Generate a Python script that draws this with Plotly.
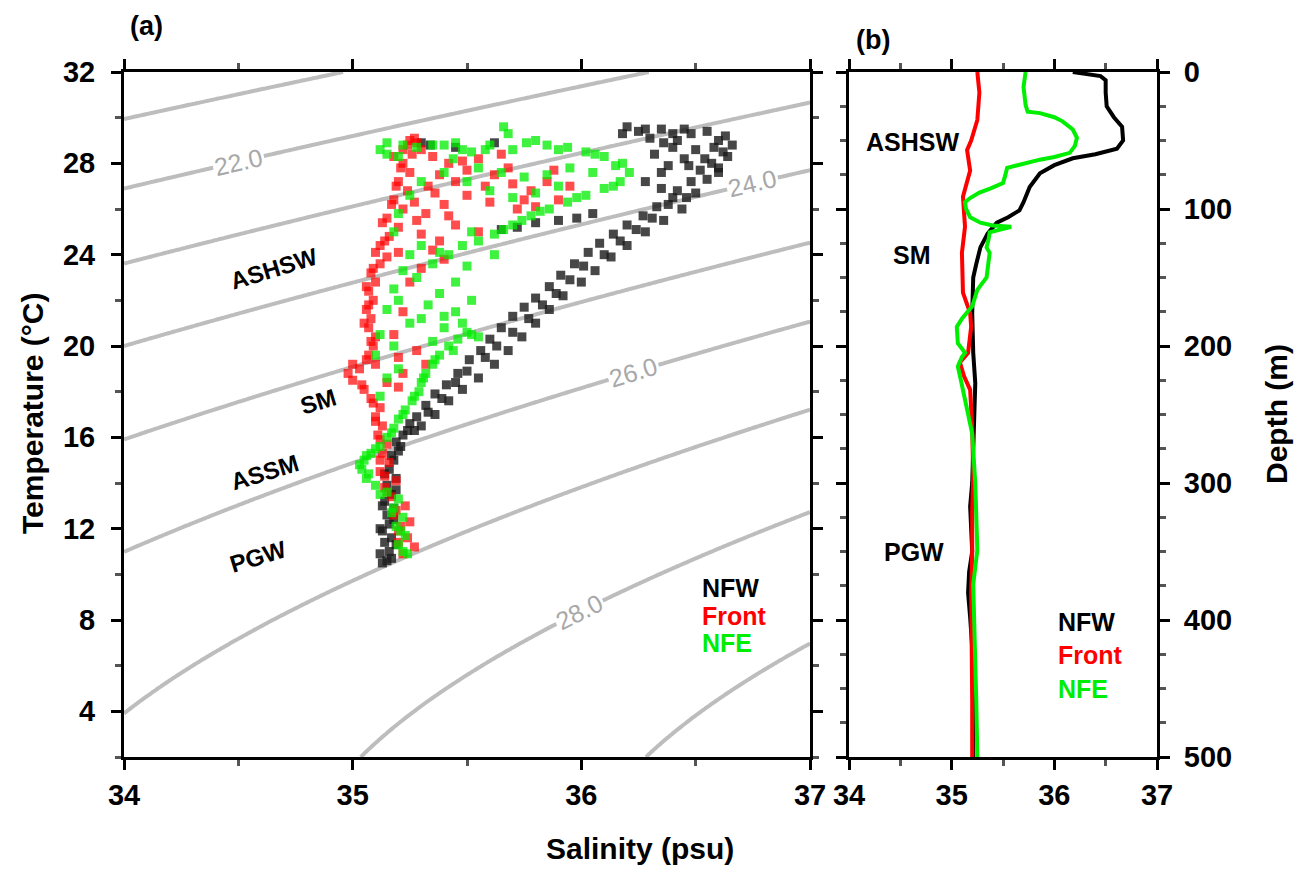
import numpy as np
import plotly.graph_objects as go

# the page puts the figure 8 px in from the window corner
OFF = 8
W, H = 1303 - 2 * OFF, 876 - 2 * OFF

# ---------------- Panel (a) data: T-S scatter ----------------
nfw_S = [35.13,35.15,35.12,35.16,35.14,35.17,35.13,35.16,35.15,35.18,35.14,35.17,35.15,35.19,35.16,35.18,35.20,35.19,35.22,
         35.25,35.28,35.32,35.36,35.41,35.46,35.51,35.56,35.60,35.65,35.70,35.75,35.80,35.86,35.91,35.97,36.03,36.08,36.14,36.20,36.27,36.33,36.40,
         35.30,35.36,35.42,35.48,35.55,35.62,35.68,35.74,35.80,35.86,35.92,36.00,36.06,36.13,36.20,36.28,36.36,36.44,
         36.50,36.55,36.60,36.64,36.66,36.63,36.55,36.45,36.35,36.25,36.18,36.30,36.42,36.50,36.45,36.38,36.52,36.58,36.40,36.32,36.28,36.35,
         35.72,35.80,35.90,35.98,36.05,35.65,
         35.30,35.34,35.62,35.45,
         35.17,35.19,35.12,35.18,35.13,35.19,35.14,35.17,35.21,35.24,
         35.27,35.33,35.39,35.45,35.50,35.58,35.63,35.70,35.77,35.83,35.89,35.95,36.01,36.10,36.17,36.24,36.31,36.38,36.46,36.42,36.48,
         36.60,36.62,36.57,36.48,36.40,36.28,36.20,36.36,36.54,36.60,36.47,36.35]
nfw_T = [10.5,10.6,10.9,11.0,11.4,11.6,11.9,12.2,12.6,12.9,13.2,13.5,13.9,14.2,14.6,15.0,15.4,15.8,16.1,
         16.6,16.9,17.4,17.9,18.3,18.8,19.4,19.8,20.3,20.8,21.3,21.7,22.1,22.6,23.1,23.6,24.1,24.5,24.9,25.3,25.7,26.1,26.5,
         16.5,17.0,17.6,18.1,18.6,19.2,19.8,20.4,21.0,21.6,22.2,22.8,23.3,23.9,24.4,25.0,25.5,26.0,
         26.7,27.3,27.8,28.3,28.8,29.2,29.4,29.5,29.5,29.4,29.3,29.1,29.0,28.6,28.2,27.9,27.7,28.7,28.7,28.4,27.2,26.9,
         25.2,25.4,25.5,25.6,25.8,25.1,
         28.9,28.8,28.9,28.7,
         10.7,11.3,12.0,12.4,13.0,13.7,14.4,15.2,15.6,16.3,
         16.3,17.1,17.7,18.4,18.9,19.5,20.0,20.6,21.2,21.8,22.3,22.9,23.5,24.0,24.6,25.1,25.6,26.2,26.5,26.8,27.2,
         29.0,28.5,28.0,29.3,29.3,29.5,29.6,28.9,28.2,27.6,27.9,27.6]

front_S = [35.22,35.27,35.24,35.20,35.25,35.18,35.23,35.17,35.14,35.19,35.12,35.16,35.13,35.15,35.11,35.13,35.10,35.12,35.08,35.05,35.00,34.98,35.03,35.10,35.15,35.20,35.22,
           35.07,35.09,35.10,35.07,35.08,35.06,35.09,35.07,35.10,35.08,35.12,35.15,35.20,35.12,35.16,35.20,35.15,35.22,35.18,35.24,35.20,35.25,35.22,35.26,35.24,35.27,35.30,
           35.35,35.42,35.50,35.55,35.62,35.70,35.78,35.85,35.90,35.72,35.60,35.50,35.40,35.32,35.45,35.55,35.38,35.30,35.28,35.33,35.45,35.65,35.80,35.95,35.40,35.30,35.25,35.22,35.18,35.20,35.32,35.28,
           35.20,35.21,35.19,35.15,35.14,35.12,35.12,35.10,35.09,35.04,35.00,35.06,35.08,35.05,35.07,35.06,35.09,35.10,35.14,35.13,35.17,35.19,35.21,35.22,35.25,35.28,35.18,
           35.38,35.48,35.58,35.68,35.75,35.88,35.36,35.27,35.35,35.42]
front_T = [10.9,11.2,11.6,11.9,12.3,12.6,13.0,13.4,13.8,14.1,14.5,14.9,15.3,15.7,16.1,16.5,16.9,17.3,17.7,18.1,18.5,18.8,19.0,19.2,18.4,18.2,18.8,
           19.6,20.0,20.4,20.8,21.2,21.6,22.0,22.4,22.8,23.2,23.6,23.9,24.1,24.4,24.8,25.2,25.6,26.0,26.4,26.8,27.2,27.6,28.0,28.4,28.8,29.1,28.6,
           28.3,28.0,27.7,28.2,27.5,27.1,26.8,27.2,26.4,26.0,26.3,26.6,26.2,25.8,25.3,25.0,24.6,24.9,25.5,27.0,27.2,28.4,26.1,27.0,23.8,23.4,22.8,21.5,20.5,19.5,19.2,19.8,
           11.4,12.1,12.8,13.6,14.3,15.0,15.9,16.7,17.5,18.3,19.2,19.4,20.2,21.0,21.8,22.6,23.4,24.1,24.6,25.4,26.2,27.0,27.8,28.6,29.0,28.9,28.3,
           27.5,28.1,27.0,27.8,26.4,27.7,26.7,26.3,24.2,25.7]

nfe_S = [35.24,35.20,35.23,35.19,35.22,35.18,35.20,35.15,35.10,35.06,35.04,35.05,35.08,35.12,35.15,35.18,35.20,35.23,35.26,35.29,35.30,35.32,35.35,35.38,35.42,35.46,35.50,35.55,
         35.48,35.40,35.35,35.30,35.45,35.52,35.38,35.33,35.12,35.15,35.10,35.12,35.15,35.18,35.22,35.28,35.35,35.42,35.48,35.55,35.62,35.70,35.78,35.86,35.94,36.02,36.10,36.17,36.21,
         36.18,36.10,36.02,35.94,35.85,35.76,35.68,35.66,35.60,35.52,35.44,35.55,35.65,35.75,35.85,35.95,36.05,35.90,35.80,35.70,35.60,35.50,35.40,35.30,35.25,35.20,35.18,
         35.12,35.15,35.20,35.28,35.35,35.45,35.62,35.50,35.45,
         35.22,35.21,35.17,35.12,35.07,35.03,35.06,35.10,35.17,35.22,35.27,35.31,35.36,35.44,35.52,35.40,35.25,35.20,35.18,35.20,35.25,35.30,35.38,35.52,35.66,35.74,35.82,35.98,36.14,
         36.15,36.06,35.90,35.80,35.70,35.58,35.48,35.40,35.22,35.15]
nfe_T = [10.9,11.3,11.7,12.1,12.5,12.9,13.3,13.6,13.9,14.2,14.6,15.0,15.3,15.6,16.0,16.4,16.8,17.2,17.6,18.0,18.4,18.8,19.2,19.6,20.0,20.3,20.6,20.4,
         21.0,20.8,20.2,21.2,21.5,22.0,22.3,21.8,17.8,18.6,19.6,20.5,21.6,22.5,23.3,23.0,23.6,24.0,24.4,24.6,24.9,25.3,25.7,26.0,26.3,26.6,26.9,27.2,27.6,
         28.0,28.3,28.5,28.7,28.8,28.9,29.3,29.6,28.8,28.5,28.2,27.8,27.6,27.4,27.5,27.8,27.6,27.0,26.7,26.5,26.8,27.2,27.6,27.2,26.6,25.8,25.0,
         28.6,28.9,28.3,28.7,28.8,28.9,24.0,23.5,22.8,
         11.0,11.9,12.7,13.5,14.4,14.8,15.2,15.5,16.2,17.0,17.8,18.6,19.4,19.8,20.5,21.3,21.0,19.0,20.0,22.0,24.0,24.4,24.1,25.0,25.1,25.5,25.9,26.5,27.0,
         27.9,28.4,28.6,29.0,28.6,28.6,28.6,28.8,28.8,28.4]

# ---------------- Panel (b) data: salinity profiles ----------------
nfw_depth = [0,3,6,15,25,33,40,50,56,60,63,68,74,84,95,101,106,110,118,128,140,150,176,205,227,250,276,300,317,335,350,365,380,398,420,450,475,500]
nfw_sal = [36.18,36.45,36.50,36.50,36.51,36.58,36.66,36.67,36.61,36.40,36.18,36.00,35.86,35.76,35.70,35.66,35.55,35.44,35.35,35.28,35.24,35.21,35.20,35.21,35.23,35.22,35.21,35.20,35.18,35.19,35.20,35.17,35.16,35.18,35.20,35.21,35.21,35.21]

front_depth = [0,15,35,50,57,72,91,113,132,161,176,186,205,212,222,232,260,295,320,350,380,422,460,500]
front_sal = [35.25,35.27,35.25,35.19,35.15,35.18,35.11,35.13,35.10,35.11,35.18,35.19,35.16,35.08,35.12,35.18,35.20,35.21,35.20,35.20,35.19,35.20,35.20,35.20]

nfe_depth = [0,11,24,29,30,33,36,42,48,54,59,62,64,67,70,76,81,85,88,92,95,100,106,110,112,113,115,117,122,128,132,140,150,159,171,180,186,198,205,208,215,225,239,264,300,349,374,400,422,460,500]
nfe_sal = [35.72,35.70,35.72,35.74,35.86,36.00,36.08,36.18,36.22,36.20,36.15,36.00,35.86,35.70,35.54,35.52,35.50,35.38,35.27,35.18,35.13,35.14,35.18,35.28,35.40,35.58,35.48,35.37,35.36,35.34,35.37,35.36,35.34,35.25,35.20,35.10,35.05,35.06,35.13,35.10,35.06,35.09,35.13,35.20,35.23,35.25,35.21,35.22,35.23,35.24,35.25]

sal_ticks = [34, 35, 36, 37]
temp_ticks = [4, 8, 12, 16, 20, 24, 28, 32]
depth_ticks = [0, 100, 200, 300, 400, 500]
sigma_levels = [21, 22, 23, 24, 25, 26, 27, 28, 29, 30]
sigma_labels = {22: 34.5, 24: 36.75, 26: 36.23, 28: 35.99}


def sigma_t(S, T):
    rw = (999.842594 + 6.793952e-2 * T - 9.095290e-3 * T**2 + 1.001685e-4 * T**3
          - 1.120083e-6 * T**4 + 6.536332e-9 * T**5)
    A = 8.24493e-1 - 4.0899e-3 * T + 7.6438e-5 * T**2 - 8.2467e-7 * T**3 + 5.3875e-9 * T**4
    B = -5.72466e-3 + 1.0227e-4 * T - 1.6546e-6 * T**2
    C = 4.8314e-4
    return rw + A * S + B * S**1.5 + C * S**2 - 1000.0


def temp_for_sigma(S, sig):
    lo, hi = -2.0, 40.0
    for _ in range(60):
        mid = 0.5 * (lo + hi)
        if sigma_t(S, mid) > sig:
            lo = mid
        else:
            hi = mid
    return 0.5 * (lo + hi)


# pixel geometry of the panels (window pixels)
ax_l, ax_r = 124, 810
bx_l, bx_r = 849, 1157
p_top, p_bot = 72, 757


def px(x):
    return (x - OFF) / W


def py(y):
    return 1 - (y - OFF) / H


fig = go.Figure()

# density contours
Sg = np.linspace(34, 37, 301)
Tg = np.linspace(2, 32, 301)
SS, TT = np.meshgrid(Sg, Tg)
Z = sigma_t(SS, TT)
fig.add_trace(go.Contour(x=Sg, y=Tg, z=Z, xaxis="x", yaxis="y",
                         contours=dict(start=sigma_levels[0], end=sigma_levels[-1], size=1,
                                       coloring="none", showlabels=False),
                         line=dict(color="#bdbdbd", width=4, smoothing=1),
                         showscale=False, hoverinfo="skip"))

mk = dict(symbol="square", size=9, line=dict(width=0))
fig.add_trace(go.Scatter(x=nfw_S, y=nfw_T, mode="markers", xaxis="x", yaxis="y",
                         marker=dict(color="rgba(25,25,25,0.8)", **mk), name="NFW"))
fig.add_trace(go.Scatter(x=front_S, y=front_T, mode="markers", xaxis="x", yaxis="y",
                         marker=dict(color="rgba(255,0,0,0.7)", **mk), name="Front"))
fig.add_trace(go.Scatter(x=nfe_S, y=nfe_T, mode="markers", xaxis="x", yaxis="y",
                         marker=dict(color="rgba(0,238,0,0.75)", **mk), name="NFE"))

fig.add_trace(go.Scatter(x=nfw_sal, y=nfw_depth, mode="lines", xaxis="x2", yaxis="y2",
                         line=dict(color="black", width=4)))
fig.add_trace(go.Scatter(x=front_sal, y=front_depth, mode="lines", xaxis="x2", yaxis="y2",
                         line=dict(color="#ff0000", width=4)))
fig.add_trace(go.Scatter(x=nfe_sal, y=nfe_depth, mode="lines", xaxis="x2", yaxis="y2",
                         line=dict(color="#00ee00", width=4)))

tickfont = dict(family="Liberation Sans", size=29, color="black", weight="bold")
axcommon = dict(showgrid=False, zeroline=False, showline=True, linecolor="black", linewidth=3,
                ticks="outside", ticklen=10, tickwidth=3, tickcolor="black", mirror="ticks",
                tickfont=tickfont, automargin=False)
minor_common = dict(ticks="outside", ticklen=6, tickwidth=3, tickcolor="#555")

fig.update_layout(
    width=W, height=H, margin=dict(l=0, r=0, t=0, b=0, autoexpand=False),
    paper_bgcolor="white", plot_bgcolor="white", showlegend=False,
    xaxis=dict(domain=[px(ax_l), px(ax_r)], range=[34, 37], tickvals=sal_ticks,
               minor=dict(dtick=0.5, **minor_common), anchor="y", **axcommon),
    yaxis=dict(domain=[py(p_bot), py(p_top)], range=[2, 32], tickvals=temp_ticks,
               minor=dict(dtick=2, **minor_common), anchor="x", ticklabelstandoff=10, **axcommon),
    xaxis2=dict(domain=[px(bx_l), px(bx_r)], range=[34, 37], tickvals=sal_ticks,
                minor=dict(dtick=0.5, **minor_common), anchor="y2", **axcommon),
    yaxis2=dict(domain=[py(p_bot), py(p_top)], range=[500, 0], tickvals=depth_ticks, side="right",
                minor=dict(dtick=25, **minor_common), anchor="x2", ticklabelstandoff=8, **axcommon),
)

ann = []


def add_text(text, x, y, size, color="black", angle=0, xanchor="center", weight="bold"):
    ann.append(dict(text=text, x=px(x), y=py(y), xref="paper", yref="paper", showarrow=False,
                    xanchor=xanchor, yanchor="middle", textangle=angle,
                    font=dict(family="Liberation Sans", size=size, color=color, weight=weight)))


add_text("(a)", 146, 26, 27)
add_text("(b)", 873, 40, 27)
add_text("Salinity (psu)", 640, 848, 30)
add_text("Temperature (°C)", 32, 414, 30, angle=-90)
add_text("Depth (m)", 1276, 414, 30, angle=-90)

# water mass labels
add_text("ASHSW", 274, 268, 24, angle=-17)
add_text("SM", 318, 401, 24, angle=-17)
add_text("ASSM", 264, 472, 24, angle=-17)
add_text("PGW", 258, 556, 24, angle=-17)
add_text("ASHSW", 912, 142, 25)
add_text("SM", 912, 255, 25)
add_text("PGW", 914, 552, 25)

# legend texts
add_text("NFW", 700, 588, 25, xanchor="left")
add_text("Front", 700, 616, 25, color="#ff0000", xanchor="left")
add_text("NFE", 700, 643, 25, color="#00ee00", xanchor="left")
add_text("NFW", 1056, 622, 25, xanchor="left")
add_text("Front", 1056, 655, 25, color="#ff0000", xanchor="left")
add_text("NFE", 1056, 689, 25, color="#00ee00", xanchor="left")

# contour labels placed on the computed isopycnals
sx = (ax_r - ax_l) / 3.0
ty = (p_bot - p_top) / 30.0
for lev, s_lab in sigma_labels.items():
    t_lab = temp_for_sigma(s_lab, lev)
    dT = temp_for_sigma(s_lab + 0.05, lev) - t_lab
    ang = -np.degrees(np.arctan2(dT * ty, 0.05 * sx))
    ann.append(dict(text=f"{lev:.1f}", x=s_lab, y=t_lab, xref="x", yref="y", showarrow=False,
                    textangle=float(ang), bgcolor="white", borderpad=1,
                    font=dict(family="Liberation Sans", size=25, color="#a8a8a8")))

fig.update_layout(annotations=ann)
fig.write_html("out.html")
